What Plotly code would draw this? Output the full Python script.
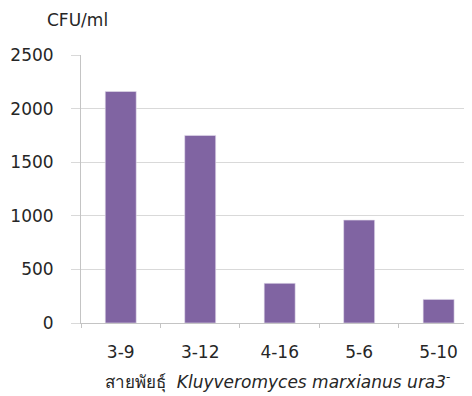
import plotly.graph_objects as go

categories = ["3-9", "3-12", "4-16", "5-6", "5-10"]
cfu_values = [2160, 1750, 370, 960, 220]
y_ticks = [0, 500, 1000, 1500, 2000, 2500]

font_family = "DejaVu Sans, Noto Sans, sans-serif"
text_color = "#262626"
grid_color = "#D9D9D9"
axis_color = "#C4C4C4"

# page offset of the figure inside the html body (default 8px body margin)
OFF = 8
W, H = 472 - OFF, 396 - OFF
L, R, T, B = 81 - OFF, 472 - OFF, 55 - OFF, 323 - OFF  # plot area in figure pixels

def px_x(x_page):
    return (x_page - OFF - L) / (R - L)

def px_y(y_page):
    return (B - (y_page - OFF)) / (B - T)

fig = go.Figure(
    go.Bar(
        x=categories,
        y=cfu_values,
        marker=dict(color="#8064A2", line=dict(color="#E6E0EE", width=0.6)),
        showlegend=False,
    )
)

fig.update_layout(
    width=W,
    height=H,
    margin=dict(l=L, r=W - R, t=T, b=H - B, autoexpand=False),
    paper_bgcolor="white",
    plot_bgcolor="white",
    bargap=0.61,
    font=dict(family=font_family, size=16, color=text_color),
    annotations=[
        dict(
            text="CFU/ml",
            x=px_x(45), y=px_y(20), xref="paper", yref="paper",
            xanchor="left", yanchor="middle",
            showarrow=False,
            font=dict(size=17, color=text_color),
        ),
        dict(
            text="สายพัยธุ์  <i>Kluyveromyces marxianus</i> <i>ura3</i><sup>-</sup>",
            xref="paper", yref="paper",
            x=px_x(103), y=px_y(381),
            xanchor="left", yanchor="middle",
            showarrow=False,
            font=dict(size=17, color=text_color),
        ),
    ],
)

fig.update_xaxes(
    type="category",
    range=[-0.5, 4.42],
    automargin=False,
    showgrid=False,
    showline=True,
    linecolor=axis_color,
    linewidth=1,
    ticks="outside",
    tickson="boundaries",
    ticklen=4,
    tickcolor=axis_color,
    ticklabelstandoff=14,
    tickfont=dict(size=17, color=text_color),
)

fig.update_yaxes(
    range=[0, 2500],
    tickvals=y_ticks,
    ticktext=[str(v) for v in y_ticks],
    automargin=False,
    showgrid=True,
    gridcolor=grid_color,
    gridwidth=1,
    showline=True,
    linecolor=axis_color,
    linewidth=1,
    ticks="outside",
    ticklen=9,
    tickcolor=grid_color,
    ticklabelstandoff=14,
    zeroline=False,
    tickfont=dict(size=17, color=text_color),
)

fig.write_html("out.html")
